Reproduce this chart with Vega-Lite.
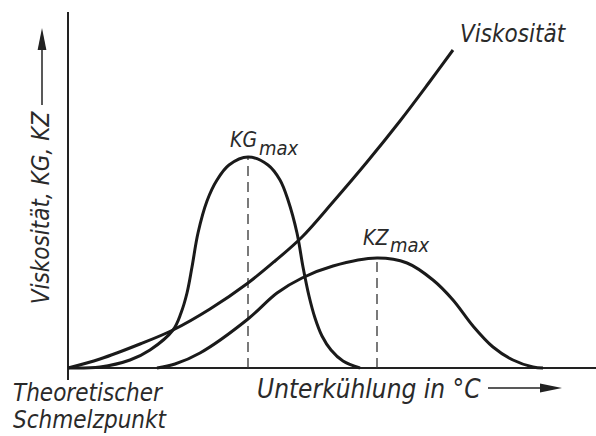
{
  "$schema": "https://vega.github.io/schema/vega-lite/v6.json",
  "width": 528,
  "height": 356,
  "autosize": {"type": "none"},
  "padding": {"left": 68, "top": 12, "right": 0, "bottom": 68},
  "background": "white",
  "config": {"view": {"stroke": null}},
  "datasets": {
    "curves": [
      {"series": "Viskosität", "x": 0, "y": 0},
      {"series": "Viskosität", "x": 32, "y": 9},
      {"series": "Viskosität", "x": 72, "y": 24},
      {"series": "Viskosität", "x": 105, "y": 38},
      {"series": "Viskosität", "x": 142, "y": 59},
      {"series": "Viskosität", "x": 180, "y": 85},
      {"series": "Viskosität", "x": 207, "y": 107},
      {"series": "Viskosität", "x": 234, "y": 131},
      {"series": "Viskosität", "x": 265, "y": 166},
      {"series": "Viskosität", "x": 299, "y": 206},
      {"series": "Viskosität", "x": 332, "y": 247},
      {"series": "Viskosität", "x": 360, "y": 284},
      {"series": "Viskosität", "x": 385, "y": 318},
      {"series": "KG", "x": 0, "y": 0},
      {"series": "KG", "x": 32, "y": 1},
      {"series": "KG", "x": 62, "y": 8},
      {"series": "KG", "x": 82, "y": 18},
      {"series": "KG", "x": 105, "y": 38},
      {"series": "KG", "x": 113, "y": 55},
      {"series": "KG", "x": 119, "y": 75},
      {"series": "KG", "x": 124, "y": 101},
      {"series": "KG", "x": 130, "y": 135},
      {"series": "KG", "x": 139, "y": 167},
      {"series": "KG", "x": 149, "y": 188},
      {"series": "KG", "x": 161, "y": 203},
      {"series": "KG", "x": 180, "y": 211},
      {"series": "KG", "x": 200, "y": 203},
      {"series": "KG", "x": 212, "y": 188},
      {"series": "KG", "x": 220, "y": 168},
      {"series": "KG", "x": 229, "y": 135},
      {"series": "KG", "x": 235, "y": 101},
      {"series": "KG", "x": 241, "y": 72},
      {"series": "KG", "x": 247, "y": 50},
      {"series": "KG", "x": 254, "y": 32},
      {"series": "KG", "x": 263, "y": 18},
      {"series": "KG", "x": 275, "y": 7},
      {"series": "KG", "x": 292, "y": 0},
      {"series": "KZ", "x": 89, "y": 0},
      {"series": "KZ", "x": 107, "y": 4},
      {"series": "KZ", "x": 132, "y": 15},
      {"series": "KZ", "x": 180, "y": 49},
      {"series": "KZ", "x": 209, "y": 75},
      {"series": "KZ", "x": 234, "y": 90},
      {"series": "KZ", "x": 265, "y": 102},
      {"series": "KZ", "x": 309, "y": 110},
      {"series": "KZ", "x": 339, "y": 105},
      {"series": "KZ", "x": 365, "y": 88},
      {"series": "KZ", "x": 385, "y": 68},
      {"series": "KZ", "x": 405, "y": 42},
      {"series": "KZ", "x": 425, "y": 21},
      {"series": "KZ", "x": 445, "y": 8},
      {"series": "KZ", "x": 465, "y": 1},
      {"series": "KZ", "x": 475, "y": 0}
    ],
    "maxima": [
      {"name": "KG", "x": 180, "y": 0, "y2": 211},
      {"name": "KZ", "x": 309, "y": 0, "y2": 110}
    ],
    "axes": [
      {"x": 0, "x2": 0, "y": -12, "y2": 356},
      {"x": 0, "x2": 528, "y": 0, "y2": 0}
    ],
    "shafts": [
      {"x": -26, "x2": -26, "y": 263, "y2": 325},
      {"x": 420, "x2": 478, "y": -20, "y2": -20}
    ],
    "upHead": [{"x": -26, "y": 329}],
    "rightHead": [{"x": 483, "y": -20}],
    "bigText": [
      {"label": "Viskosität", "x": 392, "y": 326},
      {"label": "Theoretischer", "x": -55, "y": -33},
      {"label": "Schmelzpunkt", "x": -55, "y": -60}
    ],
    "xTitle": [{"label": "Unterkühlung in °C", "x": 189, "y": -30}],
    "yTitle": [{"label": "Viskosität, KG, KZ", "x": -26, "y": 160}],
    "mainLabels": [
      {"label": "KG", "x": 162, "y": 221},
      {"label": "KZ", "x": 295, "y": 123}
    ],
    "subLabels": [
      {"label": "max", "x": 191, "y": 213},
      {"label": "max", "x": 322, "y": 116}
    ]
  },
  "layer": [
    {
      "data": {"name": "axes"},
      "mark": {"type": "rule", "color": "#222", "strokeWidth": 2},
      "encoding": {
        "x": {"field": "x", "type": "quantitative", "scale": {"domain": [0, 528], "nice": false, "zero": false}, "axis": null},
        "x2": {"field": "x2"},
        "y": {"field": "y", "type": "quantitative", "scale": {"domain": [0, 356], "nice": false, "zero": false}, "axis": null},
        "y2": {"field": "y2"}
      }
    },
    {
      "data": {"name": "maxima"},
      "mark": {"type": "rule", "color": "#333", "strokeWidth": 1.3, "strokeDash": [10, 6]},
      "encoding": {
        "x": {"field": "x", "type": "quantitative", "scale": {"domain": [0, 528], "nice": false, "zero": false}, "axis": null},
        "y": {"field": "y", "type": "quantitative", "scale": {"domain": [0, 356], "nice": false, "zero": false}, "axis": null},
        "y2": {"field": "y2"}
      }
    },
    {
      "data": {"name": "curves"},
      "mark": {"type": "line", "color": "#1a1a1a", "strokeWidth": 3, "interpolate": "catmull-rom", "clip": false},
      "encoding": {
        "x": {"field": "x", "type": "quantitative", "scale": {"domain": [0, 528], "nice": false, "zero": false}, "axis": null},
        "y": {"field": "y", "type": "quantitative", "scale": {"domain": [0, 356], "nice": false, "zero": false}, "axis": null},
        "detail": {"field": "series", "type": "nominal"}
      }
    },
    {
      "data": {"name": "shafts"},
      "mark": {"type": "rule", "color": "#222", "strokeWidth": 1.5},
      "encoding": {
        "x": {"field": "x", "type": "quantitative", "scale": {"domain": [0, 528], "nice": false, "zero": false}, "axis": null},
        "x2": {"field": "x2"},
        "y": {"field": "y", "type": "quantitative", "scale": {"domain": [0, 356], "nice": false, "zero": false}, "axis": null},
        "y2": {"field": "y2"}
      }
    },
    {
      "data": {"name": "upHead"},
      "mark": {"type": "point", "shape": "M-0.4,1L0,-1L0.4,1Z", "filled": true, "color": "#222", "size": 484, "opacity": 1},
      "encoding": {
        "x": {"field": "x", "type": "quantitative", "scale": {"domain": [0, 528], "nice": false, "zero": false}, "axis": null},
        "y": {"field": "y", "type": "quantitative", "scale": {"domain": [0, 356], "nice": false, "zero": false}, "axis": null}
      }
    },
    {
      "data": {"name": "rightHead"},
      "mark": {"type": "point", "shape": "M-1,-0.4L1,0L-1,0.4Z", "filled": true, "color": "#222", "size": 484, "opacity": 1},
      "encoding": {
        "x": {"field": "x", "type": "quantitative", "scale": {"domain": [0, 528], "nice": false, "zero": false}, "axis": null},
        "y": {"field": "y", "type": "quantitative", "scale": {"domain": [0, 356], "nice": false, "zero": false}, "axis": null}
      }
    },
    {
      "data": {"name": "bigText"},
      "mark": {"type": "text", "font": "DejaVu Sans Condensed, DejaVu Sans", "fontStyle": "italic", "fontSize": 24, "align": "left", "baseline": "alphabetic", "color": "#2a2a2a"},
      "encoding": {
        "x": {"field": "x", "type": "quantitative", "scale": {"domain": [0, 528], "nice": false, "zero": false}, "axis": null},
        "y": {"field": "y", "type": "quantitative", "scale": {"domain": [0, 356], "nice": false, "zero": false}, "axis": null},
        "text": {"field": "label"}
      }
    },
    {
      "data": {"name": "xTitle"},
      "mark": {"type": "text", "font": "DejaVu Sans Condensed, DejaVu Sans", "fontStyle": "italic", "fontSize": 26, "align": "left", "baseline": "alphabetic", "color": "#2a2a2a"},
      "encoding": {
        "x": {"field": "x", "type": "quantitative", "scale": {"domain": [0, 528], "nice": false, "zero": false}, "axis": null},
        "y": {"field": "y", "type": "quantitative", "scale": {"domain": [0, 356], "nice": false, "zero": false}, "axis": null},
        "text": {"field": "label"}
      }
    },
    {
      "data": {"name": "yTitle"},
      "mark": {"type": "text", "font": "DejaVu Sans Condensed, DejaVu Sans", "fontStyle": "italic", "fontSize": 24, "align": "center", "baseline": "middle", "angle": 270, "color": "#2a2a2a"},
      "encoding": {
        "x": {"field": "x", "type": "quantitative", "scale": {"domain": [0, 528], "nice": false, "zero": false}, "axis": null},
        "y": {"field": "y", "type": "quantitative", "scale": {"domain": [0, 356], "nice": false, "zero": false}, "axis": null},
        "text": {"field": "label"}
      }
    },
    {
      "data": {"name": "mainLabels"},
      "mark": {"type": "text", "font": "DejaVu Sans Condensed, DejaVu Sans", "fontStyle": "italic", "fontSize": 21, "align": "left", "baseline": "alphabetic", "color": "#2a2a2a"},
      "encoding": {
        "x": {"field": "x", "type": "quantitative", "scale": {"domain": [0, 528], "nice": false, "zero": false}, "axis": null},
        "y": {"field": "y", "type": "quantitative", "scale": {"domain": [0, 356], "nice": false, "zero": false}, "axis": null},
        "text": {"field": "label"}
      }
    },
    {
      "data": {"name": "subLabels"},
      "mark": {"type": "text", "font": "DejaVu Sans Condensed, DejaVu Sans", "fontStyle": "italic", "fontSize": 20, "align": "left", "baseline": "alphabetic", "color": "#2a2a2a"},
      "encoding": {
        "x": {"field": "x", "type": "quantitative", "scale": {"domain": [0, 528], "nice": false, "zero": false}, "axis": null},
        "y": {"field": "y", "type": "quantitative", "scale": {"domain": [0, 356], "nice": false, "zero": false}, "axis": null},
        "text": {"field": "label"}
      }
    }
  ]
}
